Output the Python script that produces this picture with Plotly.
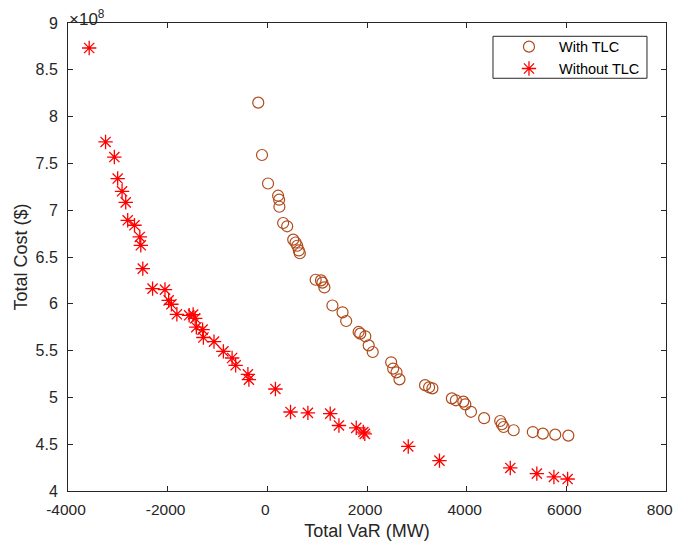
import plotly.graph_objects as go

# With TLC: Total VaR (MW), Total Cost ($)
with_var = [-182, -107, 14, 216, 236, 242, 317, 398, 519, 566, 600, 632, 652,
            970, 1077, 1105, 1145, 1306, 1509, 1582, 1832, 1865, 1966, 2034, 2115,
            2485, 2525, 2592, 2652, 3165, 3246, 3313, 3703, 3784, 3933, 3973, 4087,
            4350, 4673, 4706, 4741, 4943, 5327, 5529, 5777, 6040]
with_cost = [8.149e8, 7.59e8, 7.285e8, 7.155e8, 7.112e8, 7.037e8, 6.863e8, 6.828e8,
             6.686e8, 6.655e8, 6.62e8, 6.57e8, 6.54e8,
             6.257e8, 6.25e8, 6.226e8, 6.175e8, 5.982e8, 5.909e8, 5.816e8, 5.699e8,
             5.681e8, 5.653e8, 5.556e8, 5.485e8,
             5.375e8, 5.308e8, 5.268e8, 5.193e8, 5.131e8, 5.108e8, 5.097e8, 4.99e8,
             4.969e8, 4.955e8, 4.926e8, 4.846e8,
             4.778e8, 4.748e8, 4.713e8, 4.684e8, 4.649e8, 4.63e8, 4.613e8, 4.602e8, 4.592e8]

# Without TLC
without_var = [-3575, -3246, -3070, -3003, -2915, -2842, -2802, -2666, -2559, -2539,
               -2499, -2303, -2054, -1980, -1925, -1815, -1569, -1489, -1448, -1425,
               -1299, -1283, -1070, -882, -707, -636, -390, -370, 162, 465,
               814, 1262, 1437, 1784, 1926, 1956, 2828, 3454, 4875, 5408, 5751, 6026]
without_cost = [8.733e8, 7.729e8, 7.568e8, 7.338e8, 7.202e8, 7.084e8, 6.892e8, 6.839e8,
                6.714e8, 6.625e8, 6.376e8, 6.162e8, 6.152e8, 6.037e8, 5.995e8, 5.888e8,
                5.877e8, 5.885e8, 5.845e8, 5.75e8, 5.724e8, 5.64e8, 5.596e8, 5.492e8,
                5.421e8, 5.343e8, 5.247e8, 5.19e8, 5.09e8, 4.844e8, 4.835e8, 4.827e8,
                4.70e8, 4.675e8, 4.63e8, 4.61e8, 4.476e8, 4.325e8, 4.246e8, 4.186e8,
                4.15e8, 4.128e8]

x_ticks = [-4000, -2000, 0, 2000, 4000, 6000, 8000]
x_tick_labels = ["-4000", "-2000", "0", "2000", "4000", "6000", "8000"]
y_ticks = [4e8, 4.5e8, 5e8, 5.5e8, 6e8, 6.5e8, 7e8, 7.5e8, 8e8, 8.5e8, 9e8]
y_tick_labels = ["4", "4.5", "5", "5.5", "6", "6.5", "7", "7.5", "8", "8.5", "9"]

axis_color = "#262626"
font_family = "Liberation Sans, Arial, sans-serif"

fig = go.Figure()
fig.add_trace(go.Scatter(
    x=with_var, y=with_cost, mode="markers", name="With TLC",
    marker=dict(symbol="circle-open", size=11, color="#B04A1A",
                line=dict(width=1.2, color="#B04A1A")),
))
fig.add_trace(go.Scatter(
    x=without_var, y=without_cost, mode="markers", name="Without TLC",
    marker=dict(symbol="asterisk-open", size=12, color="#FF0000",
                line=dict(width=1.3, color="#FF0000")),
))

axis_common = dict(
    showline=True, linecolor=axis_color, linewidth=1, mirror="ticks",
    ticks="inside", ticklen=5, tickwidth=1, tickcolor=axis_color,
    showgrid=False, zeroline=False, automargin=False,
    ticklabeloverflow="allow",
)

fig.update_xaxes(
    range=[-4000, 8000], tickvals=x_ticks, ticktext=x_tick_labels,
    ticklabelstandoff=4, ticklabelshift=-2,
    tickfont=dict(family=font_family, size=15.5, color=axis_color),
    title=dict(text="Total VaR (MW)", font=dict(family=font_family, size=18, color=axis_color),
               standoff=7),
    **axis_common,
)
fig.update_yaxes(
    range=[4e8, 9e8], tickvals=y_ticks, ticktext=y_tick_labels,
    ticklabelstandoff=6,
    tickfont=dict(family=font_family, size=16, color=axis_color),
    title=dict(text="Total Cost ($)", font=dict(family=font_family, size=18, color=axis_color),
               standoff=3),
    **axis_common,
)

fig.add_annotation(
    xref="paper", yref="paper", x=0, y=1, xanchor="left", yanchor="bottom",
    text="×10<sup>8</sup>", showarrow=False, yshift=-7, borderpad=0,
    font=dict(family=font_family, size=17, color=axis_color),
)

# legend frame (paper coordinates)
fig.add_shape(type="rect", xref="paper", yref="paper",
              x0=0.7107, x1=0.9682, y0=0.8819, y1=0.9716,
              line=dict(color=axis_color, width=1), fillcolor="rgba(0,0,0,0)",
              layer="above")

fig.update_layout(
    width=673, height=537,
    margin=dict(l=60, r=15, t=15, b=54, autoexpand=False),
    paper_bgcolor="white", plot_bgcolor="white",
    font=dict(family=font_family, color=axis_color),
    showlegend=True,
    legend=dict(
        x=0.7207, y=0.9835, xanchor="left", yanchor="top",
        borderwidth=0, bgcolor="rgba(0,0,0,0)",
        font=dict(family=font_family, size=14.5, color="#000000"),
        itemwidth=50, tracegroupgap=0,
    ),
)

fig.write_html("out.html")
